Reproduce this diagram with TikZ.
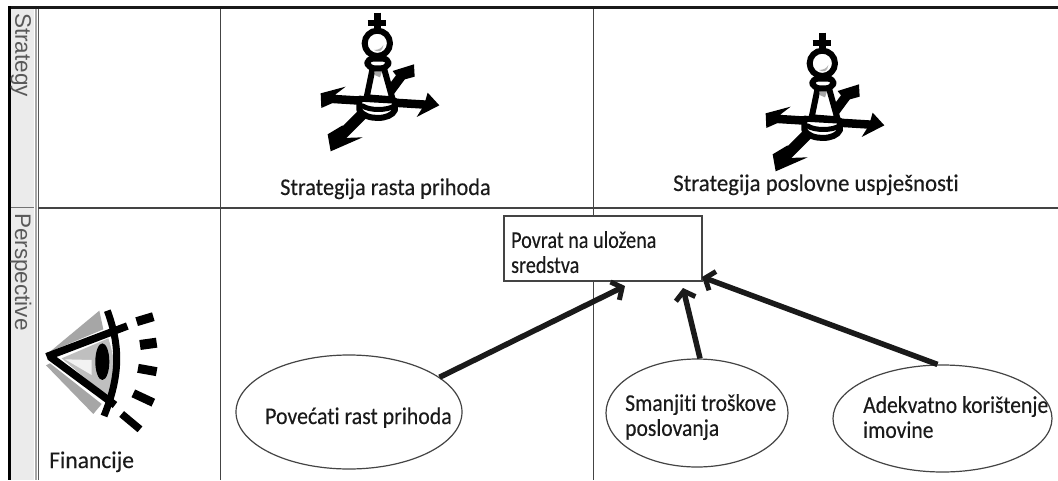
\documentclass[tikz,border=0pt]{standalone}
\usepackage{fontspec}
\setmainfont[Ligatures=NoCommon,FakeBold=0.25]{Carlito}
\newfontfamily\hdr{Liberation Sans}
\usetikzlibrary{shapes.geometric,arrows.meta}
\definecolor{ink}{HTML}{1A1A1A}
\definecolor{strip}{HTML}{EBEBEB}
\definecolor{edge}{HTML}{444444}
\tikzset{
  x=1pt,y=-1pt,
  label text/.style={font=\fontsize{24}{25}\selectfont,text=ink,inner sep=0pt,align=left},
  header/.style={font=\hdr\fontsize{22.5}{26}\selectfont,text=black!65,rotate=-90,inner sep=0pt},
  oval/.style={draw=edge,line width=1.2pt,ellipse,fill=white,inner sep=0pt},
  flow/.style={line width=5.5pt,ink,-{Straight Barb[length=8pt,width=20pt,line width=5pt]}},
  chess/.pic={
    \begin{scope}[scale=0.3333,line cap=round,line join=round,draw=black]
      \draw[line width=8.5pt,line cap=butt] (68,295) -- (395,315);
      \fill (62,280) -- (137,260) -- (107,283) -- (100,308) -- (64,324) -- cycle;
      \fill (383,278) -- (418,316) -- (350,351) -- (372,316) -- cycle;
      \draw[line width=11pt,line cap=butt] (195,335) -- (115,415);
      \fill (83,403) -- (92,454) -- (188,412) -- (132,414) -- (128,376) -- cycle;
      \draw[line width=9.5pt,line cap=butt] (262,285) -- (310,220);
      \fill (278,213) -- (342,193) -- (344,230) -- (300,242) -- cycle;
      \draw[line width=6.5pt,line cap=butt] (232,38) -- (232,92);
      \draw[line width=6pt,line cap=butt] (203,68) -- (258,68);
      \draw[line width=6pt,fill=white] (178,296) -- (285,302) -- (285,330) .. controls (272,362) and (195,362) .. (178,330) -- cycle;
      \draw[line width=5pt] (188,318) .. controls (210,332) and (260,332) .. (283,318);
      \draw[line width=6pt,fill=white] (218,205) -- (200,292) -- (278,298) -- (252,205) -- cycle;
      \fill[black!35] (222,214) -- (246,214) -- (240,232) -- (226,226) -- cycle;
      \draw[line width=6pt,fill=white,rounded corners=6pt] (200,176) -- (268,176) -- (262,205) -- (205,205) -- cycle;
      \draw[line width=6pt,fill=white] (232,130) ellipse[x radius=38,y radius=38];
      \fill[black!30] (222,150) .. controls (235,150) and (245,145) .. (250,135) .. controls (248,155) and (235,158) .. (222,150) -- cycle;
    \end{scope}
  },
  eyeicon/.pic={
    \begin{scope}[scale=0.3333,line cap=butt,line join=miter]
      \fill[black!35] (150,185) -- (298,62) -- (310,118) -- cycle;
      \fill[black!35] (138,226) -- (150,220) -- (305,342) -- (280,372) -- cycle;
      \fill[black!25] (185,205) -- (325,145) .. controls (350,220) and (345,260) .. (322,320) -- cycle;
      \fill[black!5] (195,208) -- (275,210) -- (275,255) -- cycle;
      \draw[line width=7.5pt] (140,200) -- (382,108);
      \draw[line width=7.5pt] (150,200) -- (345,345);
      \draw[line width=7pt] (322,62) .. controls (362,170) and (360,260) .. (312,378);
      \fill (307,215) ellipse[x radius=21,y radius=55];
      \draw[line width=9pt] (410,95) -- (460,80);
      \draw[line width=10pt] (420,165) -- (470,158);
      \draw[line width=9pt] (414,235) -- (470,245);
      \draw[line width=8.5pt] (400,310) -- (460,338);
      \draw[line width=7.5pt] (365,372) -- (420,418);
    \end{scope}
  }
}
\begin{document}
\begin{tikzpicture}
  \useasboundingbox (0,0) rectangle (1058,480);
  \fill[white] (0,0) rectangle (1058,480);
  \fill[strip] (10,9) rectangle (34,480);
  \draw[black!55,line width=1pt] (10,207) -- (34,207);
  \draw[black!35,line width=1.5pt] (36,9) -- (36,480);
  \draw[black!65,line width=1pt] (38.5,9) -- (38.5,480);
  \draw[edge,line width=1.2pt] (38,208) -- (1058,208);
  \draw[edge,line width=1.2pt] (220.5,9) -- (220.5,480);
  \draw[edge,line width=1.2pt] (593.5,9) -- (593.5,480);
  \draw[black!90,line width=3pt] (8,7.5) -- (1058,7.5);
  \draw[black,line width=3pt] (9,6) -- (9,480);
  \node[header,anchor=west] (hs) at (21,13) {Strategy};
  \node[header,anchor=west] (hp) at (21,213) {Perspective};
  \pic at (300,0) {chess};
  \pic at (745,20) {chess};
  \pic at (0,290) {eyeicon};
  \node[label text,xscale=.93,anchor=base west] (t1) at (280,195) {Strategija rasta prihoda};
  \node[label text,xscale=.95,anchor=base west] (t2) at (673,191) {Strategija poslovne uspješnosti};
  \node[label text,xscale=.98,anchor=base west] (t3) at (49,468) {Financije};
  \node[draw=edge,line width=1.2pt,fill=white,minimum width=198pt,minimum height=65pt,inner sep=0pt] (box) at (603,248.5) {};
  \node[label text,xscale=.84,anchor=north west] (boxt) at (511,231) {Povrat na uložena\\sredstva};
  \node[oval,minimum width=226pt,minimum height=114pt] (o1) at (349,412) {};
  \node[label text,xscale=.91,anchor=base west] (o1t) at (265,424) {Povećati rast prihoda};
  \node[oval,minimum width=182pt,minimum height=108pt] (o2) at (697,413) {};
  \node[label text,xscale=.9,anchor=north west] (o2t) at (625,394) {Smanjiti troškove\\poslovanja};
  \node[oval,minimum width=219pt,minimum height=107pt] (o3) at (942.5,418.5) {};
  \node[label text,xscale=.9,anchor=north west] (o3t) at (863,396) {Adekvatno korištenje\\imovine};
  \coordinate (e1) at (625,286);
  \coordinate (e2) at (683,288);
  \coordinate (e3) at (702,277);
  \draw[flow] (o1.21) -- (e1);
  \draw[flow] (o2.north) ++(3,0) -- (e2);
  \draw[flow] (o3.north) ++(-5,0) -- (e3);
\end{tikzpicture}
\end{document}
